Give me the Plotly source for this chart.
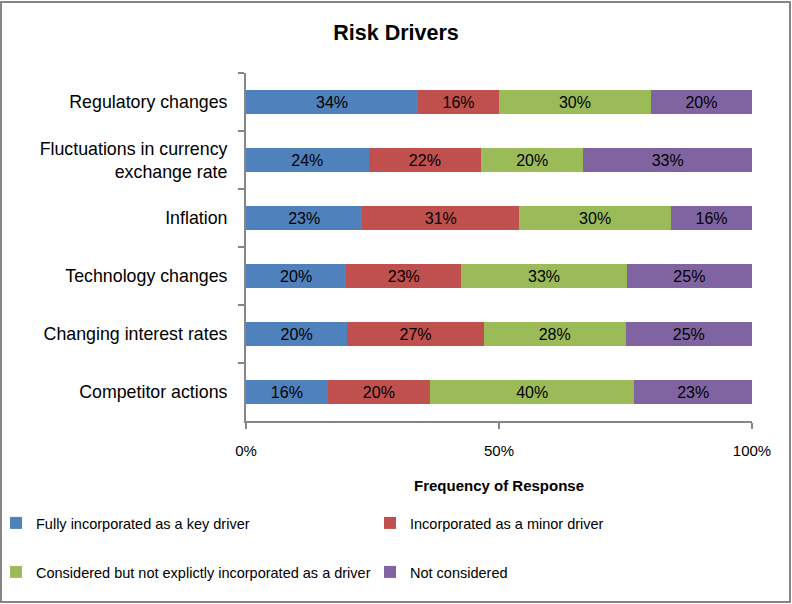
import plotly.graph_objects as go

categories = ["Regulatory changes", "Fluctuations in currency<br>exchange rate", "Inflation",
              "Technology changes", "Changing interest rates", "Competitor actions"]
series_names = ["Fully incorporated as a key driver", "Incorporated as a minor driver",
                "Considered but not explictly incorporated as a driver", "Not considered"]
fully_key = [34, 24, 23, 20, 20, 16]
minor = [16, 22, 31, 23, 27, 20]
considered = [30, 20, 30, 33, 28, 40]
not_considered = [20, 33, 16, 25, 25, 23]
colors = ["#4F81BD", "#C0504D", "#9BBB59", "#8064A2"]
legend_ids = ["legend", "legend", "legend2", "legend2"]
x_ticks = [0, 50, 100]

FONT = "Liberation Sans, Arial, sans-serif"

W, H = 792, 604
ML, MR, MT, MB = 246, 40, 73, 183
PW, PH = W - ML - MR, H - MT - MB


def px_to_paper_x(px):
    return (px - ML) / PW


def px_to_paper_y(py):
    return (H - MB - py) / PH


fig = go.Figure()
for name, vals, col, lg in zip(series_names, [fully_key, minor, considered, not_considered], colors, legend_ids):
    fig.add_trace(go.Bar(
        y=categories, x=vals, name=name, orientation="h", legend=lg,
        marker=dict(color=col, line=dict(width=0)),
        text=[f"{v}%" for v in vals], textposition="inside", insidetextanchor="middle",
        textfont=dict(color="black", size=16, family=FONT),
        constraintext="none",
    ))

legend_common = dict(orientation="h", xref="paper", yref="paper", x=px_to_paper_x(-4),
                     xanchor="left", yanchor="top", entrywidth=329, entrywidthmode="pixels",
                     font=dict(size=14.5, family=FONT), traceorder="normal",
                     bgcolor="rgba(0,0,0,0)")

fig.update_layout(
    barmode="stack", barnorm="percent", bargap=0.58,
    width=W, height=H,
    margin=dict(l=ML, r=MR, t=MT, b=MB, autoexpand=False),
    paper_bgcolor="white", plot_bgcolor="white",
    font=dict(family=FONT, color="black", size=16),
    title=dict(text="<b>Risk Drivers</b>", x=0.5, xref="container", y=1 - 32 / H, yref="container",
               yanchor="middle", xanchor="center", font=dict(size=21.5, family=FONT)),
    uniformtext=dict(mode=False),
    legend=dict(legend_common, y=px_to_paper_y(507)),
    legend2=dict(legend_common, y=px_to_paper_y(556)),
    showlegend=True,
)
fig.update_xaxes(range=[0, 100], tickvals=x_ticks, ticktext=[f"{t}%" for t in x_ticks],
                 showgrid=False, zeroline=False, showline=True, linecolor="#868686", linewidth=2,
                 ticks="outside", ticklen=6, tickcolor="#868686", tickwidth=2,
                 tickfont=dict(size=15), ticklabelstandoff=9,
                 title=dict(text="<b>Frequency of Response</b>", font=dict(size=15), standoff=22))
fig.update_yaxes(autorange="reversed", showgrid=False, showline=True, linecolor="#868686", linewidth=2,
                 ticks="outside", ticklen=6, tickcolor="#868686", tickwidth=2, tickson="boundaries",
                 tickfont=dict(size=17.8), ticklabelstandoff=13)

fig.add_shape(type="rect", xref="paper", yref="paper",
              x0=px_to_paper_x(1), x1=px_to_paper_x(790), y0=px_to_paper_y(602), y1=px_to_paper_y(2),
              line=dict(color="#868686", width=2), fillcolor="rgba(0,0,0,0)", layer="below")

fig.write_html("out.html", config={"displayModeBar": False},
               post_script="document.body.style.margin='0';")
